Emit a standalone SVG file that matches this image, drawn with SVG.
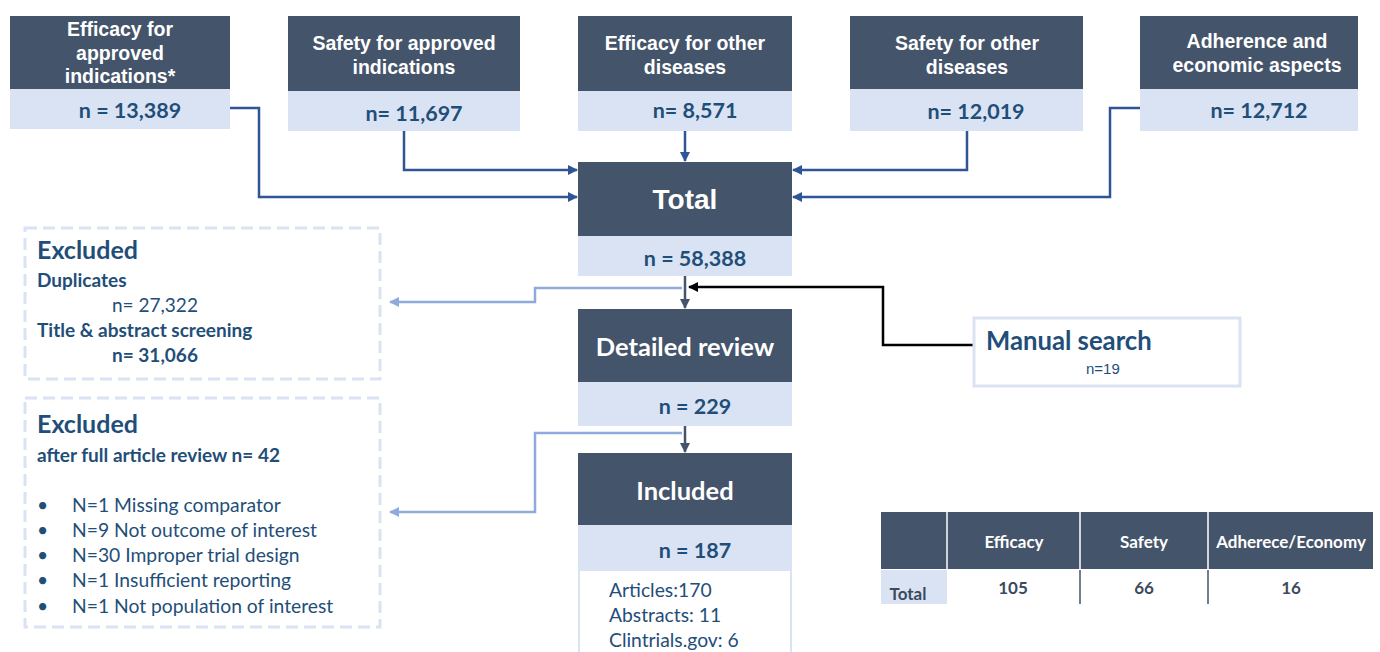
<svg xmlns="http://www.w3.org/2000/svg" width="1380" height="652" viewBox="0 0 1380 652">
<style>
.dk{fill:#44546a}
.lt{fill:#dae3f3}
.ttl{font-family:"Liberation Sans",Arial,sans-serif;font-weight:bold;font-size:19.5px;fill:#ffffff;text-anchor:middle}
.num{font-family:Lato,"Open Sans",sans-serif;font-weight:bold;font-size:21.5px;fill:#1f4e79;text-anchor:middle}
.big{font-family:Lato,"Open Sans",sans-serif;font-weight:bold;font-size:25.5px;fill:#ffffff;text-anchor:middle}
.exh{font-family:Lato,"Open Sans",sans-serif;font-weight:bold;font-size:25px;fill:#1f4e79}
.exb{font-family:Lato,"Open Sans",sans-serif;font-weight:bold;font-size:19px;fill:#1f4e79}
.exr{font-family:Lato,"Open Sans",sans-serif;font-size:19px;fill:#1f4e79}
.li{font-family:Lato,"Open Sans",sans-serif;font-size:19.3px;fill:#1f4e79}
.dash{fill:none;stroke:#dae3f3;stroke-width:3;stroke-dasharray:12 6}
.c{fill:none;stroke:#2f5597;stroke-width:2.5}
.cl{fill:none;stroke:#8faadc;stroke-width:2.5}
.ck{fill:none;stroke:#000000;stroke-width:2.5}
.th{font-family:Lato,"Open Sans",sans-serif;font-weight:bold;font-size:17px;fill:#ffffff;text-anchor:middle}
.td{font-family:Lato,"Open Sans",sans-serif;font-weight:bold;font-size:17px;fill:#3b4a5e;text-anchor:middle}
</style>
<defs>
<marker id="ab" viewBox="0 0 10 10" refX="9" refY="5" markerWidth="4" markerHeight="4" orient="auto" markerUnits="strokeWidth"><path d="M0,0 L10,5 L0,10 z" fill="#2f5597"/></marker>
<marker id="ag" viewBox="0 0 10 10" refX="9" refY="5" markerWidth="4" markerHeight="4" orient="auto" markerUnits="strokeWidth"><path d="M0,0 L10,5 L0,10 z" fill="#44546a"/></marker>
<marker id="al" viewBox="0 0 10 10" refX="9" refY="5" markerWidth="4" markerHeight="4" orient="auto" markerUnits="strokeWidth"><path d="M0,0 L10,5 L0,10 z" fill="#8faadc"/></marker>
<marker id="ak" viewBox="0 0 10 10" refX="9" refY="5" markerWidth="4" markerHeight="4" orient="auto" markerUnits="strokeWidth"><path d="M0,0 L10,5 L0,10 z" fill="#000000"/></marker>
</defs>
<rect width="1380" height="652" fill="#ffffff"/>

<g id="connectors">
<path class="c" d="M230,108 H259 V197 H577" marker-end="url(#ab)"/>
<path class="c" d="M404,131 V170 H577" marker-end="url(#ab)"/>
<path class="c" d="M685,131 V161" marker-end="url(#ab)"/>
<path class="c" d="M967,131 V170 H793" marker-end="url(#ab)"/>
<path class="c" d="M1140,108 H1110 V197 H793" marker-end="url(#ab)"/>
<path class="cl" d="M682,288 H535 V302 H390" marker-end="url(#al)"/>
<path class="c" style="stroke:#44546a" d="M685,276 V308" marker-end="url(#ag)"/>
<path class="ck" d="M975,345 H883 V287 H689" marker-end="url(#ak)"/>
<path class="cl" d="M682,433 H535 V512 H390" marker-end="url(#al)"/>
<path class="c" style="stroke:#44546a" d="M685,426 V452" marker-end="url(#ag)"/>
</g>

<g id="n-efficacy-approved">
<rect class="dk" x="10" y="16" width="220" height="73"/>
<rect class="lt" x="10" y="89" width="220" height="40"/>
<text class="ttl" x="120" y="36">Efficacy for</text>
<text class="ttl" x="120" y="60">approved</text>
<text class="ttl" x="120" y="83">indications*</text>
<text class="num" x="130" y="118">n = 13,389</text>
</g>
<g id="n-safety-approved">
<rect class="dk" x="288" y="16" width="232" height="75"/>
<rect class="lt" x="288" y="91" width="232" height="40"/>
<text class="ttl" x="404" y="50">Safety for approved</text>
<text class="ttl" x="404" y="74">indications</text>
<text class="num" x="414" y="121">n= 11,697</text>
</g>
<g id="n-efficacy-other">
<rect class="dk" x="578" y="16" width="214" height="75"/>
<rect class="lt" x="578" y="91" width="214" height="40"/>
<text class="ttl" x="685" y="50">Efficacy for other</text>
<text class="ttl" x="685" y="74">diseases</text>
<text class="num" x="695" y="118">n= 8,571</text>
</g>
<g id="n-safety-other">
<rect class="dk" x="850" y="16" width="233" height="73"/>
<rect class="lt" x="850" y="89" width="233" height="42"/>
<text class="ttl" x="967" y="50">Safety for other</text>
<text class="ttl" x="967" y="74">diseases</text>
<text class="num" x="976" y="119">n= 12,019</text>
</g>
<g id="n-adherence">
<rect class="dk" x="1140" y="16" width="218" height="73"/>
<rect class="lt" x="1140" y="89" width="218" height="42"/>
<text class="ttl" x="1257" y="48">Adherence and</text>
<text class="ttl" x="1257" y="72">economic aspects</text>
<text class="num" x="1259" y="118">n= 12,712</text>
</g>

<g id="n-total">
<rect class="dk" x="578" y="162" width="214" height="74"/>
<rect class="lt" x="578" y="236" width="214" height="40"/>
<text class="ttl" x="685" y="209" style="font-size:28px">Total</text>
<text class="num" x="695" y="266">n = 58,388</text>
</g>

<g id="n-detailed">
<rect class="dk" x="578" y="309" width="214" height="73"/>
<rect class="lt" x="578" y="382" width="214" height="44"/>
<text class="big" x="685" y="356">Detailed review</text>
<text class="num" x="695" y="414">n = 229</text>
</g>

<g id="n-included">
<rect class="dk" x="578" y="453" width="214" height="72"/>
<rect class="lt" x="578" y="525" width="214" height="45"/>
<rect x="579" y="570" width="212" height="84" fill="#ffffff" stroke="#dae3f3" stroke-width="2"/>
<text class="big" x="685" y="500">Included</text>
<text class="num" x="695" y="558">n = 187</text>
<text class="li" x="609" y="597">Articles:170</text>
<text class="li" x="609" y="622">Abstracts: 11</text>
<text class="li" x="609" y="647">Clintrials.gov: 6</text>
</g>

<g id="n-excluded1">
<rect class="dash" x="25" y="228" width="355" height="151"/>
<text class="exh" x="37" y="259">Excluded</text>
<text class="exb" x="37" y="287">Duplicates</text>
<text class="exr" x="112" y="312">n= 27,322</text>
<text class="exb" x="37" y="337">Title &amp; abstract screening</text>
<text class="exb" x="112" y="362">n= 31,066</text>
</g>

<g id="n-excluded2">
<rect class="dash" x="25" y="398" width="355" height="229"/>
<text class="exh" x="37" y="433">Excluded</text>
<text class="exb" x="37" y="462">after full article review n= 42</text>
<text class="li" x="37" y="512">•</text><text class="li" x="72" y="512">N=1 Missing comparator</text>
<text class="li" x="37" y="537">•</text><text class="li" x="72" y="537">N=9 Not outcome of interest</text>
<text class="li" x="37" y="562">•</text><text class="li" x="72" y="562">N=30 Improper trial design</text>
<text class="li" x="37" y="587">•</text><text class="li" x="72" y="587">N=1 Insufficient reporting</text>
<text class="li" x="37" y="613">•</text><text class="li" x="72" y="613">N=1 Not population of interest</text>
</g>

<g id="n-manual">
<rect x="974" y="318" width="266" height="68" fill="#ffffff" stroke="#dae3f3" stroke-width="3"/>
<text class="exh" x="986" y="350" style="font-size:25.7px">Manual search</text>
<text x="1086" y="374" style="font-family:'Liberation Sans',Arial,sans-serif;font-size:15px;fill:#1f4e79">n=19</text>
</g>

<g id="n-table">
<rect class="dk" x="881" y="512" width="492" height="57"/>
<line x1="947" y1="512" x2="947" y2="569" stroke="#ffffff" stroke-width="1.5"/>
<line x1="1080" y1="512" x2="1080" y2="569" stroke="#ffffff" stroke-width="1.5"/>
<line x1="1208" y1="512" x2="1208" y2="569" stroke="#ffffff" stroke-width="1.5"/>
<rect class="lt" x="881" y="570" width="66" height="34"/>
<line x1="1080" y1="570" x2="1080" y2="604" stroke="#44546a" stroke-width="1.5"/>
<line x1="1208" y1="570" x2="1208" y2="604" stroke="#44546a" stroke-width="1.5"/>
<text class="th" x="1014" y="548">Efficacy</text>
<text class="th" x="1144" y="548">Safety</text>
<text class="th" x="1291" y="548">Adherece/Economy</text>
<text class="td" x="908" y="600">Total</text>
<text class="td" x="1013" y="594">105</text>
<text class="td" x="1144" y="594">66</text>
<text class="td" x="1291" y="594">16</text>
</g>
</svg>
